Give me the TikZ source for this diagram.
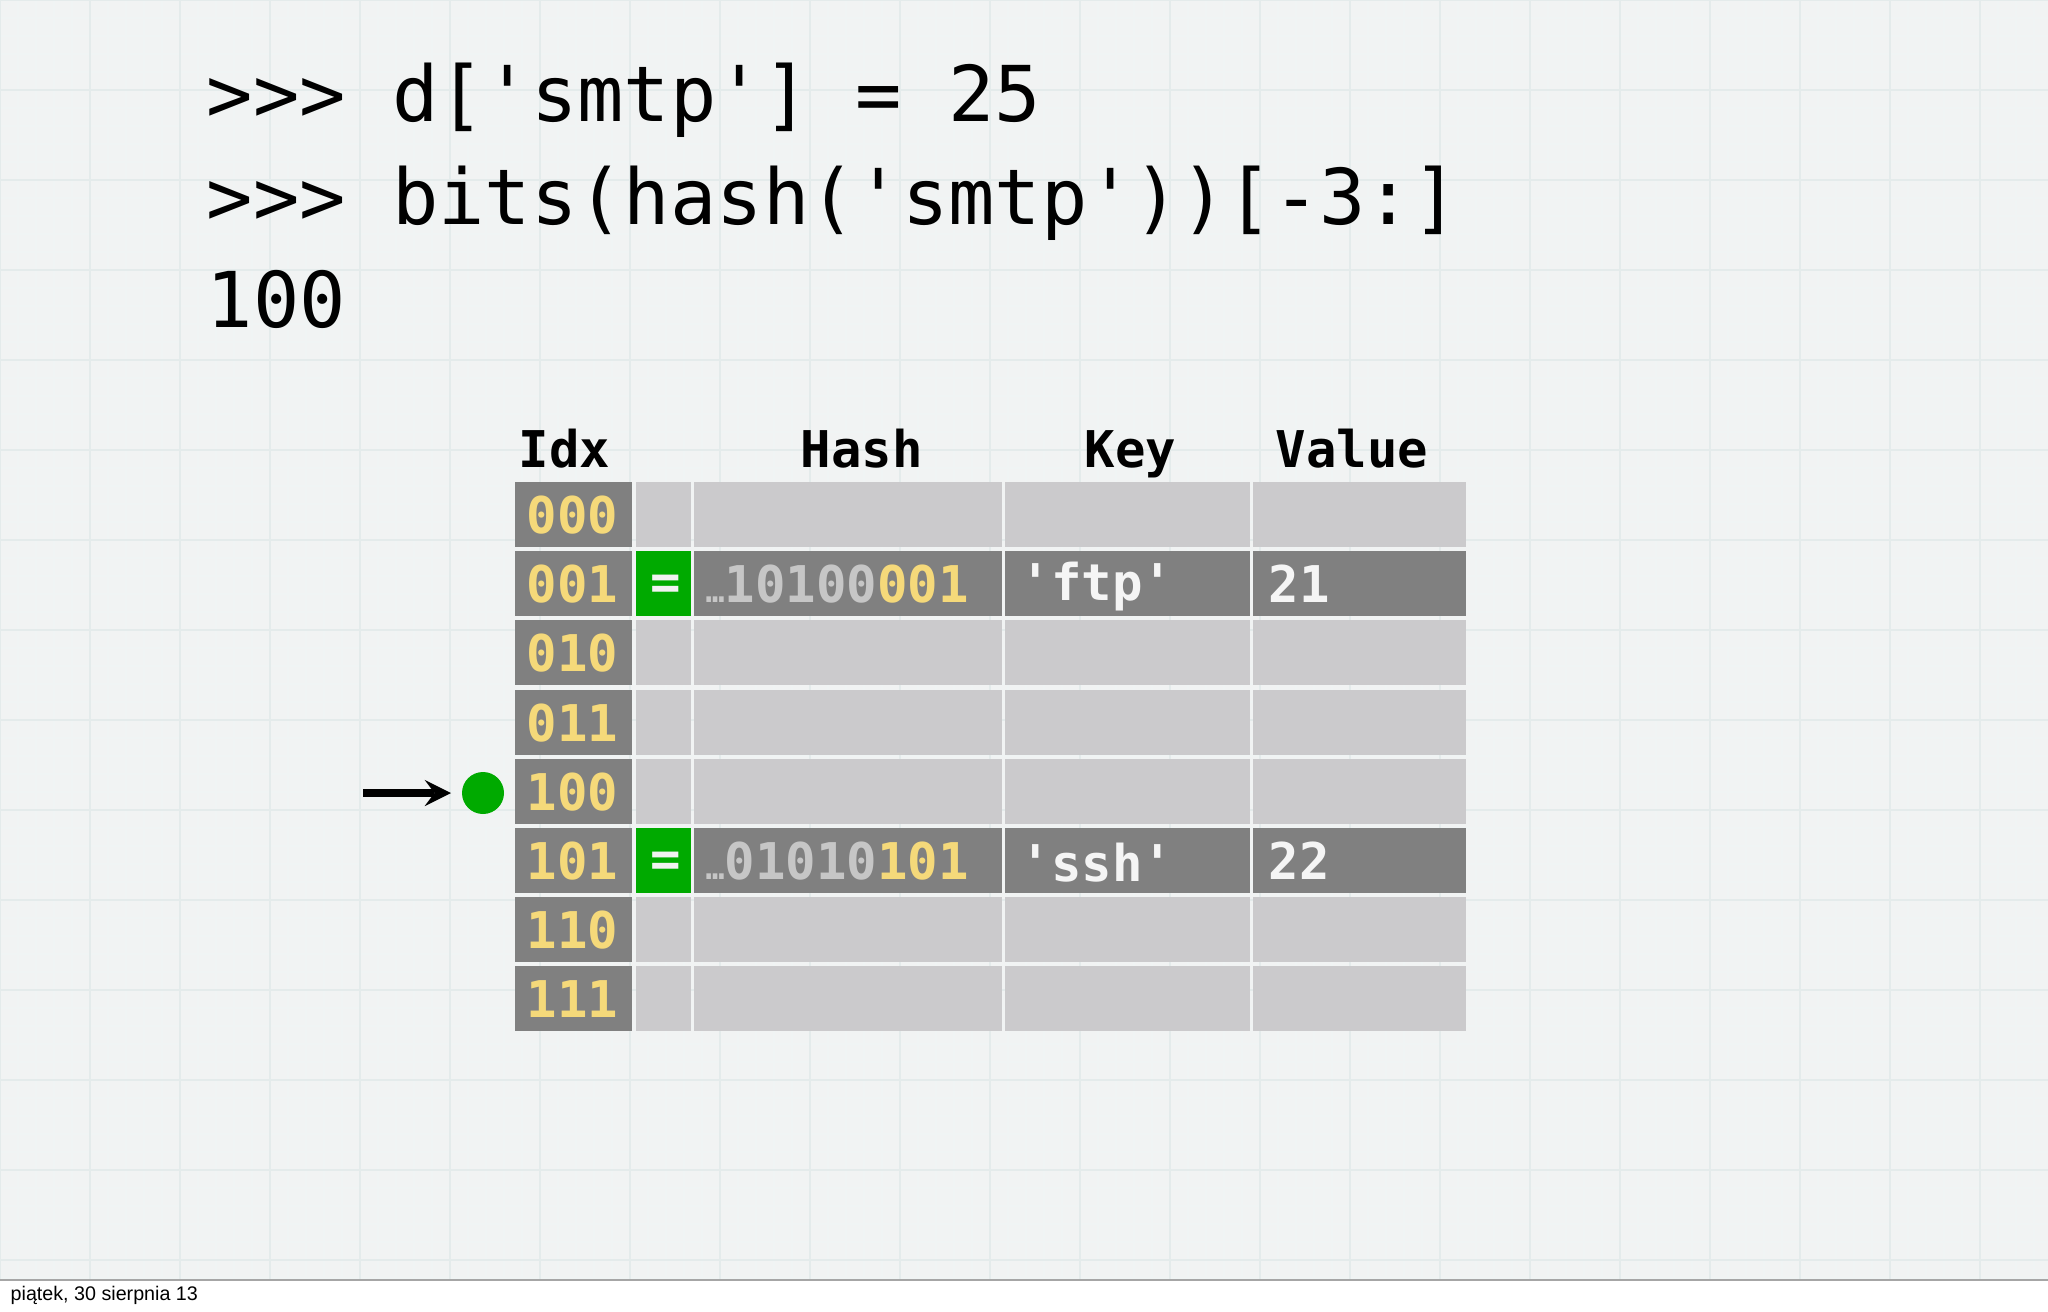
\documentclass[tikz,border=0pt]{standalone}
\usepackage{fontspec}
\setmonofont{DejaVu Sans Mono}
\setsansfont{Liberation Sans}
\begin{document}
\begin{tikzpicture}[x=0.01cm,y=-0.01cm,
  code/.style={anchor=base west,inner sep=0,font=\ttfamily\fontsize{21.9}{26}\selectfont},
  hd/.style={anchor=base west,inner sep=0,font=\ttfamily\bfseries\fontsize{14.4}{17}\selectfont},
  cell/.style={anchor=west,inner sep=0,font=\ttfamily\bfseries\fontsize{14.4}{17}\selectfont}]
\definecolor{bg}{HTML}{F1F3F3}
\definecolor{gridc}{HTML}{DDE6E6}
\definecolor{cellDark}{HTML}{808080}
\definecolor{cellLight}{HTML}{CBCACC}
\definecolor{yel}{HTML}{F5D97A}
\definecolor{dig}{HTML}{C6C6C6}
\definecolor{grn}{HTML}{00AA00}
\useasboundingbox (0,0) rectangle (2048,1312);
\fill[bg] (0,0) rectangle (2048,1280);
\fill[white] (0,1280) rectangle (2048,1312);
\foreach \x in {0,18,...,2048} \draw[gridc!45,line width=0.3pt] (\x,0) -- (\x,1280);
\foreach \y in {0,18,...,1280} \draw[gridc!45,line width=0.3pt] (0,\y) -- (2048,\y);
\foreach \x in {0,90,...,2048} \draw[gridc!80,line width=0.5pt] (\x,0) -- (\x,1280);
\foreach \y in {0,90,...,1280} \draw[gridc!80,line width=0.5pt] (0,\y) -- (2048,\y);
\draw[gray!70,line width=0.5pt] (0,1280) -- (2048,1280);
\node[anchor=base west,inner sep=0,font=\sffamily\fontsize{5.6}{6}\selectfont] (foot) at (10,1300) {piątek, 30 sierpnia 13};
% code
\node[code] (l1) at (206,121) {>>> d['smtp'] = 25};
\node[code] (l2) at (206,224) {>>> bits(hash('smtp'))[-3:]};
\node[code] (l3) at (206,327) {100};
% headers
\node[hd] (hIdx) at (518,467) {Idx};
\node[hd] (hHash) at (800,467) {Hash};
\node[hd] (hKey) at (1084,467) {Key};
\node[hd] (hVal) at (1275,467) {Value};
% rows
\foreach \i/\b/\full in {0/000/0,1/001/1,2/010/0,3/011/0,4/100/0,5/101/1,6/110/0,7/111/0}{
  \pgfmathsetmacro{\t}{482+69.2*\i}
  \pgfmathsetmacro{\bt}{\t+65}
  \fill[cellDark] (515,\t) rectangle (632,\bt);
  \ifnum\full=1
    \fill[grn] (636,\t) rectangle (691,\bt);
    \fill[cellDark] (694,\t) rectangle (1002,\bt);
    \fill[cellDark] (1005,\t) rectangle (1250,\bt);
    \fill[cellDark] (1253,\t) rectangle (1466,\bt);
  \else
    \fill[cellLight] (636,\t) rectangle (691,\bt);
    \fill[cellLight] (694,\t) rectangle (1002,\bt);
    \fill[cellLight] (1005,\t) rectangle (1250,\bt);
    \fill[cellLight] (1253,\t) rectangle (1466,\bt);
  \fi
  \node[cell,text=yel] (idx\i) at (526,\t+33) {\b};
}
\node[cell,text=white!90!gray] (eq1) at (650,482+69.2+36) {=};
\node[cell,text=white!90!gray] (eq5) at (650,482+5*69.2+36) {=};
\node[cell] (h1) at (705,482+69.2+33) {\textcolor{dig}{\fontsize{9}{10}\selectfont…}\textcolor{dig}{10100}\textcolor{yel}{001}};
\node[cell] (h5) at (705,482+5*69.2+33) {\textcolor{dig}{\fontsize{9}{10}\selectfont…}\textcolor{dig}{01010}\textcolor{yel}{101}};
\node[cell,text=white!92!gray] (k1) at (1020,482+69.2+35) {'ftp'};
\node[cell,text=white!92!gray] (k5) at (1020,482+5*69.2+35) {'ssh'};
\node[cell,text=white!92!gray] (v1) at (1268,482+69.2+33) {21};
\node[cell,text=white!92!gray] (v5) at (1268,482+5*69.2+33) {22};
% pointer
\node[circle,fill=grn,minimum size=42*0.01cm,inner sep=0] (dot) at (483,793) {};
\coordinate (as) at (363,793);
\draw[-stealth,line width=2.2pt] (as) -- (451,793);
\end{tikzpicture}
\end{document}
